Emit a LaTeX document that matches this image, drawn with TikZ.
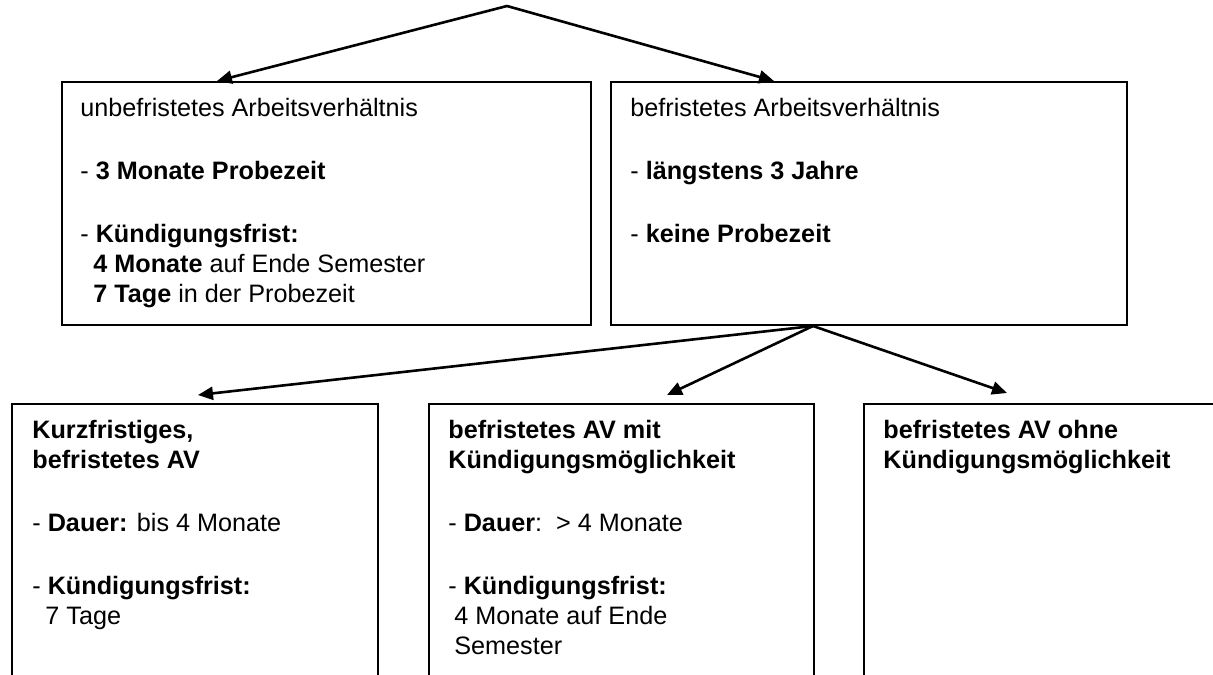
\documentclass[tikz,border=0pt]{standalone}
\usepackage{fontspec}
\setmainfont{Liberation Sans}
\usetikzlibrary{positioning,arrows.meta}
\begin{document}
\begin{tikzpicture}[>={Triangle[length=7.5pt,width=6.5pt]},x=0.5pt,y=-0.5pt,
	kasten/.style={draw,line width=1pt,anchor=north west,inner sep=0pt,minimum height=150pt},
	inhalt/.style={anchor=north west,inner sep=0pt,align=left,font=\fontsize{12.6}{15}\selectfont},
	pfeil/.style={->,line width=1.3pt}]
\useasboundingbox (0,0) rectangle (1213,674);
\clip (0,0) rectangle (1213,674);
% obere Ebene
\node[kasten,minimum width=264.5pt,minimum height=121.5pt] (unbef) at (61,81) {};
\node[kasten,minimum width=258pt,minimum height=121.5pt] (bef) at (610,81) {};
\node[inhalt] (unbefText) at ([shift={(19,17)}]unbef.north west) {%
	unbefristetes Arbeitsverhältnis\\[16.5pt]
	- \textbf{3 Monate Probezeit}\\[16.5pt]
	- \textbf{Kündigungsfrist:}\\
	\hspace*{6.5pt}\textbf{4 Monate} auf Ende Semester\\
	\hspace*{6.5pt}\textbf{7 Tage} in der Probezeit};
\node[inhalt] (befText) at ([shift={(20,17)}]bef.north west) {%
	befristetes Arbeitsverhältnis\\[16.5pt]
	- \textbf{längstens 3 Jahre}\\[16.5pt]
	- \textbf{keine Probezeit}};
% untere Ebene
\node[kasten,minimum width=183pt] (kurz) at (11,403) {};
\node[kasten,minimum width=192.5pt] (mit) at (428,403) {};
\node[kasten,minimum width=200pt] (ohne) at (863,403) {};
\node[inhalt] (kurzText) at ([shift={(21,17)}]kurz.north west) {%
	\textbf{Kurzfristiges,}\\
	\textbf{befristetes AV}\\[16.5pt]
	- \textbf{Dauer:} bis 4 Monate\\[16.5pt]
	- \textbf{Kündigungsfrist:}\\
	\hspace*{6.5pt}7 Tage};
\node[inhalt] (mitText) at ([shift={(20,17)}]mit.north west) {%
	\textbf{befristetes AV mit}\\
	\textbf{Kündigungsmöglichkeit}\\[16.5pt]
	- \textbf{Dauer}:\ \ > 4 Monate\\[16.5pt]
	- \textbf{Kündigungsfrist:}\\
	\hspace*{3pt}4 Monate auf Ende\\
	\hspace*{3pt}Semester};
\node[inhalt] (ohneText) at ([shift={(20,17)}]ohne.north west) {%
	\textbf{befristetes AV ohne}\\
	\textbf{Kündigungsmöglichkeit}};
% Pfeile
\coordinate (spitze) at (507,6);
\coordinate (abzweig) at ([shift={(203,0)}]bef.south west);
\draw[pfeil] (spitze) -- ([shift={(156,0)}]unbef.north west);
\draw[pfeil] (spitze) -- ([shift={(164,0)}]bef.north west);
\draw[pfeil] (abzweig) -- ([shift={(187,-8)}]kurz.north west);
\draw[pfeil] (abzweig) -- ([shift={(239,-8)}]mit.north west);
\draw[pfeil] (abzweig) -- ([shift={(144,-10)}]ohne.north west);
\end{tikzpicture}
\end{document}
